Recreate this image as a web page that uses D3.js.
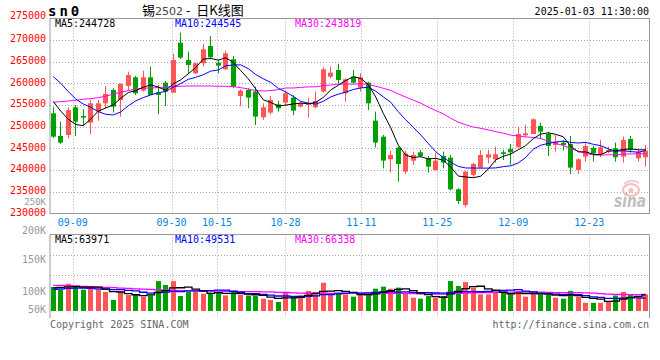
<!DOCTYPE html>
<html><head><meta charset="utf-8">
<script src="https://cdn.jsdelivr.net/npm/d3@7"></script>
<style>body{margin:0;background:#fff}svg{display:block}</style>
</head><body>
<svg id="c" width="660" height="360"></svg>
<script>
// ---------------- DATA ----------------
const dates = ["09-04","09-05","09-06","09-09","09-10","09-11","09-12","09-13","09-18","09-19","09-20","09-23","09-24","09-25","09-26","09-27","09-30",
"10-08","10-09","10-10","10-11","10-14","10-15","10-16","10-17","10-18","10-21","10-22","10-23","10-24","10-25","10-28","10-29","10-30","10-31",
"11-01","11-04","11-05","11-06","11-07","11-08","11-11","11-12","11-13","11-14","11-15","11-18","11-19","11-20","11-21","11-22","11-25","11-26","11-27","11-28","11-29",
"12-02","12-03","12-04","12-05","12-06","12-09","12-10","12-11","12-12","12-13","12-16","12-17","12-18","12-19","12-20","12-23","12-24","12-25","12-26","12-27","12-30","12-31",
"01-02","01-03"];
const open = [253080,247850,248080,254460,252460,250920,253460,255380,258460,256150,
259380,261380,258310,261380,257850,260150,257850,269380,265380,262310,
264620,268620,264770,263230,265540,257080,258460,258080,252150,253230,
255150,255540,256690,254620,255000,254460,258080,261540,263080,257690,
261540,259000,260150,251380,247690,242460,245150,239620,242150,244080,
242690,240000,243230,242850,235540,231920,238850,240540,242850,242460,
244080,244850,245230,248000,248310,250150,248310,245770,246310,246000,
240000,243080,245080,243690,244230,245000,243080,247150,242690,242920];
const high = [254460,251150,254460,255000,254000,256150,256150,259380,258850,260000,
262690,261690,262920,263850,259620,260540,266770,271690,267310,264770,
269080,270920,265380,267540,266310,258620,258850,259230,255380,257080,
256000,258310,257310,255770,256540,258080,263690,263850,264460,261150,
263080,262310,260380,253460,248080,244460,245380,244460,244230,244620,
243230,244000,244230,243460,235770,239850,241690,244620,244620,245380,
244620,246000,250000,250380,251920,250920,248850,248080,246920,247850,
242690,246310,245540,246920,245380,246310,247690,247850,245000,245770];
const low = [247400,246000,247310,247850,250380,248310,251380,254230,253230,252310,
258460,257310,258080,257310,252850,254770,257850,265620,262310,262150,
263850,265540,262310,263080,258850,254770,254230,250380,251540,252770,
253460,254770,252690,254460,252080,254230,257850,261150,259770,255770,
259850,258080,253850,245230,240380,239380,237310,239080,241150,242920,
239380,239850,240380,235230,232150,231380,238460,240380,241540,241690,
242310,241230,245230,247690,248310,247230,243230,244230,244460,239080,
239080,241920,241920,242920,243850,241920,241690,244000,241920,240770];
const close = [247690,246310,253850,251150,252080,255380,255380,257540,254620,259850,
261920,257690,261380,257310,257310,258080,265380,265920,264230,264620,
267850,266000,264080,266920,259230,258310,256690,252310,254460,256150,
254230,257690,253690,255380,255380,255920,263230,262460,260770,260920,
260150,261380,255380,246310,242150,243460,241380,243850,243460,243230,
240770,242150,241690,235540,232850,239620,241380,243460,243620,243620,
243690,244080,248310,248460,251690,248850,245540,246540,245770,240540,
242460,245540,243850,245230,244620,242920,246920,244620,244230,244460];
const volume = [95100,86200,108100,99200,84600,95100,86200,75600,43900,76400,
63400,63400,56900,61800,118700,103300,118700,59300,75600,75600,
68300,72400,72400,61800,76400,63400,61800,59300,48800,43900,
35800,72400,59300,61800,79700,75600,112200,63400,72400,65900,
56900,65900,61800,88600,96700,88600,92700,72400,52800,48800,
59300,52800,59300,118700,99200,114600,92700,65900,65900,72400,
72400,65900,79700,56900,72400,65900,65900,52800,48800,79700,
56900,32500,32500,32500,35800,61800,75600,63400,52800,65900];
// moving-average values before enough visible days exist
const priceMA5Lead = [255800,253600,251700,250500];
const priceMA10Lead = [261540,260000,258080,256380,255230,254460,253460,252850,252690];
const priceMA30Lead = [255620,255770,255920,256080,256310,256460,256690,257000,257540,257920,
258310,258690,258850,258920,259000,259150,259230,259310,259380,259380,
259380,259380,259310,259310,259230,259000,258690,258310,258230];
const volMA5Lead = [92000,94000,96000,97000];
const volMA10Lead = [86000,88000,90000,91000,91000,90000,88000,86000,85000];
const volMA30Lead = [102000,102000,101000,100000,98000,97000,95000,94000,93000,91000,
90000,88000,87000,86000,84000,83000,82000,81000,80000,80000,
79000,79000,79000,78000,78000,77000,77000,77000,76000];
const priceTicks = [230000,235000,240000,245000,250000,255000,260000,265000,270000,275000];
const dateTicks = ["09-09","09-30","10-15","10-28","11-11","11-25","12-09","12-23"];
const volTickValues = [250000,200000,150000,100000,50000];
const volTickLabels = ["250K","200K","150K","100K","50K"];
const priceMALabels = ["MA5:244728","MA10:244545","MA30:243819"];
const volMALabels = ["MA5:63971","MA10:49531","MA30:66338"];
const maColors = ["#000000","#0000ff","#ff00ff"];
const titleCode = "sn0";
const titleName = ["锡","2502","\u00a0-\u00a0\u00a0","日K线图"];
const timeStamp = "2025-01-03 11:30:00";
const footerLeft = "Copyright 2025 SINA.COM";
const footerRight = "http://finance.sina.com.cn";

// ---------------- DRAW ----------------
const mono = "'DejaVu Sans Mono','Liberation Mono',monospace";
const RED = "#ff5555", GREEN = "#00a000", GRID = "#a8a8a8", BORDER = "#999";
const svg = d3.select("#c");
const L = 50, R = 649.5, T = 18.5, B = 213.5;
const VT = 234.5, VB = 318, VBASE = 311;

const x = d3.scaleBand().domain(dates).range([49.5, 649.5]);
const xg = d3.scalePoint().domain(dates).range([50, 650]);
const y = d3.scaleLinear().domain([230000, 275000]).range([213.3, 18.3]);
const yv = d3.scaleLinear().domain([0, 100000]).range([VBASE, VBASE - 25.2]);
const volLabelY = d3.scaleLinear().domain(volTickValues).range([202, 230.5, 259, 291, 309.5]);
const volGrid = d3.scaleLinear().domain([0, 4]).range([235.3, 315.3]);
const cx = i => x(dates[i]) + x.bandwidth() / 2;
const bodyX = i => Math.round(cx(i) - 2.5);

function movingAvg(vals, n, lead) {
  return vals.map((v, i) => i < n - 1 ? lead[i] : d3.mean(vals.slice(i - n + 1, i + 1)));
}

const defs = svg.append("defs");
defs.append("clipPath").attr("id", "mainClip")
  .append("rect").attr("x", L).attr("y", T).attr("width", R - L).attr("height", B - T);
defs.append("clipPath").attr("id", "volClip")
  .append("rect").attr("x", L).attr("y", VT).attr("width", R - L).attr("height", VB - VT);

// grid: main
const g = svg.append("g");
g.selectAll(".hg").data(priceTicks.filter(t => t > 230000 && t < 275000)).join("line")
  .attr("x1", L).attr("x2", R)
  .attr("y1", d => Math.round(y(d)) + 0.5).attr("y2", d => Math.round(y(d)) + 0.5)
  .attr("stroke", GRID).attr("stroke-dasharray", "1 2");
g.selectAll(".vg").data(dateTicks).join("line")
  .attr("x1", d => Math.round(xg(d)) + 0.5).attr("x2", d => Math.round(xg(d)) + 0.5)
  .attr("y1", T).attr("y2", B)
  .attr("stroke", GRID).attr("stroke-dasharray", "1 2");
// grid: volume
g.selectAll(".vhg").data([1, 2]).join("line")
  .attr("x1", L).attr("x2", R)
  .attr("y1", d => Math.round(volGrid(d)) + 0.5).attr("y2", d => Math.round(volGrid(d)) + 0.5)
  .attr("stroke", GRID).attr("stroke-dasharray", "1 2");
g.selectAll(".vvg").data(dateTicks).join("line")
  .attr("x1", d => Math.round(xg(d)) + 0.5).attr("x2", d => Math.round(xg(d)) + 0.5)
  .attr("y1", VT).attr("y2", VB)
  .attr("stroke", GRID).attr("stroke-dasharray", "1 2");

// sina logo watermark
const logo = svg.append("g").attr("opacity", 0.8);
logo.append("ellipse").attr("cx", 631).attr("cy", 190).attr("rx", 8).attr("ry", 6)
  .attr("fill", "none").attr("stroke", "#f4b0b0").attr("stroke-width", 2.2);
logo.append("circle").attr("cx", 631).attr("cy", 190.5).attr("r", 2.5).attr("fill", "#f4b0b0");
logo.append("path").attr("d", "M624,184 Q631,178 639,183").attr("fill", "none")
  .attr("stroke", "#f4b0b0").attr("stroke-width", 1.5);
logo.append("text").attr("x", 614).attr("y", 207).text("sina")
  .attr("font-family", "'DejaVu Sans',sans-serif").attr("font-weight", "bold")
  .attr("font-style", "italic").attr("font-size", 18).attr("fill", "#b0b0b0")
  .attr("textLength", 32).attr("lengthAdjust", "spacingAndGlyphs");

// candles
const idx = d3.range(dates.length);
const up = i => close[i] >= open[i];
const cg = svg.append("g").attr("clip-path", "url(#mainClip)");
cg.selectAll(".wick").data(idx).join("line")
  .attr("x1", i => bodyX(i) + 2.5).attr("x2", i => bodyX(i) + 2.5)
  .attr("y1", i => y(high[i])).attr("y2", i => y(low[i]))
  .attr("stroke", i => up(i) ? RED : GREEN);
cg.selectAll(".body").data(idx).join("rect")
  .attr("x", i => bodyX(i)).attr("width", 5)
  .attr("y", i => y(Math.max(open[i], close[i])))
  .attr("height", i => Math.max(1, Math.abs(y(open[i]) - y(close[i]))))
  .attr("fill", i => up(i) ? RED : GREEN);

// price MAs
const pMA = [movingAvg(close, 5, priceMA5Lead), movingAvg(close, 10, priceMA10Lead), movingAvg(close, 30, priceMA30Lead)];
const lineP = d3.line().x((d, i) => cx(i)).y(d => y(d));
[2, 1, 0].forEach(k => {
  cg.append("path").attr("d", lineP(pMA[k])).attr("fill", "none")
    .attr("stroke", maColors[k]).attr("stroke-width", 1);
});

// volume bars
const vg = svg.append("g").attr("clip-path", "url(#volClip)");
vg.selectAll(".vb").data(idx).join("rect")
  .attr("x", i => bodyX(i)).attr("width", 5)
  .attr("y", i => yv(volume[i])).attr("height", i => VBASE - yv(volume[i]))
  .attr("fill", i => up(i) ? RED : GREEN);
const vMA = [movingAvg(volume, 5, volMA5Lead), movingAvg(volume, 10, volMA10Lead), movingAvg(volume, 30, volMA30Lead)];
const lineV = d3.line().x((d, i) => cx(i)).y(d => yv(d)).curve(d3.curveStep);
[2, 1, 0].forEach(k => {
  vg.append("path").attr("d", lineV(vMA[k])).attr("fill", "none")
    .attr("stroke", maColors[k]).attr("stroke-width", 1.3);
});

// borders
const bd = svg.append("g").attr("stroke", BORDER).attr("fill", "none");
bd.append("rect").attr("x", L).attr("y", T).attr("width", R - L).attr("height", B - T);
bd.append("path").attr("d", `M${L},${VB}V${VT}H${R}V${VB}`);

// axis labels
const tg = svg.append("g").attr("font-family", mono).attr("font-size", 10);
tg.selectAll(".yl").data(priceTicks).join("text")
  .attr("x", 46).attr("y", d => d === 275000 ? y(d) - 2.5 : y(d) - 1).attr("dy", "0.35em")
  .attr("text-anchor", "end").attr("fill", "#ff0000").text(d => d);
tg.selectAll(".vl").data(volTickValues).join("text")
  .attr("x", 46).attr("y", d => volLabelY(d)).attr("dy", "0.35em")
  .attr("font-size", d => d === 250000 ? 9 : 10)
  .attr("text-anchor", "end").attr("fill", "#999").text((d, i) => volTickLabels[i]);
tg.selectAll(".xl").data(dateTicks).join("text")
  .attr("x", d => xg(d)).attr("y", 222).attr("dy", "0.35em")
  .attr("text-anchor", "middle").attr("fill", "#0a84d8").text(d => d);

// MA legends
const legX = [55, 175, 295];
tg.selectAll(".pm").data(priceMALabels).join("text")
  .attr("x", (d, i) => legX[i]).attr("y", 23.5).attr("dy", "0.35em")
  .attr("fill", (d, i) => maColors[i]).text(d => d);
tg.selectAll(".vm").data(volMALabels).join("text")
  .attr("x", (d, i) => legX[i]).attr("y", 239).attr("dy", "0.35em")
  .attr("fill", (d, i) => maColors[i]).text(d => d);

// titles
svg.append("text").attr("x", 48).attr("y", 16).text(titleCode)
  .attr("font-family", mono).attr("font-weight", "bold").attr("font-size", 14)
  .attr("letter-spacing", 3).attr("fill", "#000");
const tt = svg.append("text").attr("x", 142).attr("y", 15)
  .attr("font-family", "'Noto Sans CJK SC',sans-serif").attr("font-size", 13).attr("fill", "#000");
tt.append("tspan").text(titleName[0]);
tt.append("tspan").text(titleName[1]).attr("fill", "#444").attr("font-family", "'DejaVu Sans',sans-serif").attr("font-size", 11);
tt.append("tspan").text(titleName[2]);
tt.append("tspan").text(titleName[3]);
tg.append("text").attr("x", 649).attr("y", 11).attr("dy", "0.35em")
  .attr("text-anchor", "end").attr("fill", "#000").text(timeStamp);

// footer
tg.append("text").attr("x", 50).attr("y", 324).attr("dy", "0.35em").attr("fill", "#666").text(footerLeft);
tg.append("text").attr("x", 649).attr("y", 324).attr("dy", "0.35em").attr("text-anchor", "end").attr("fill", "#666").text(footerRight);
</script>
</body></html>
